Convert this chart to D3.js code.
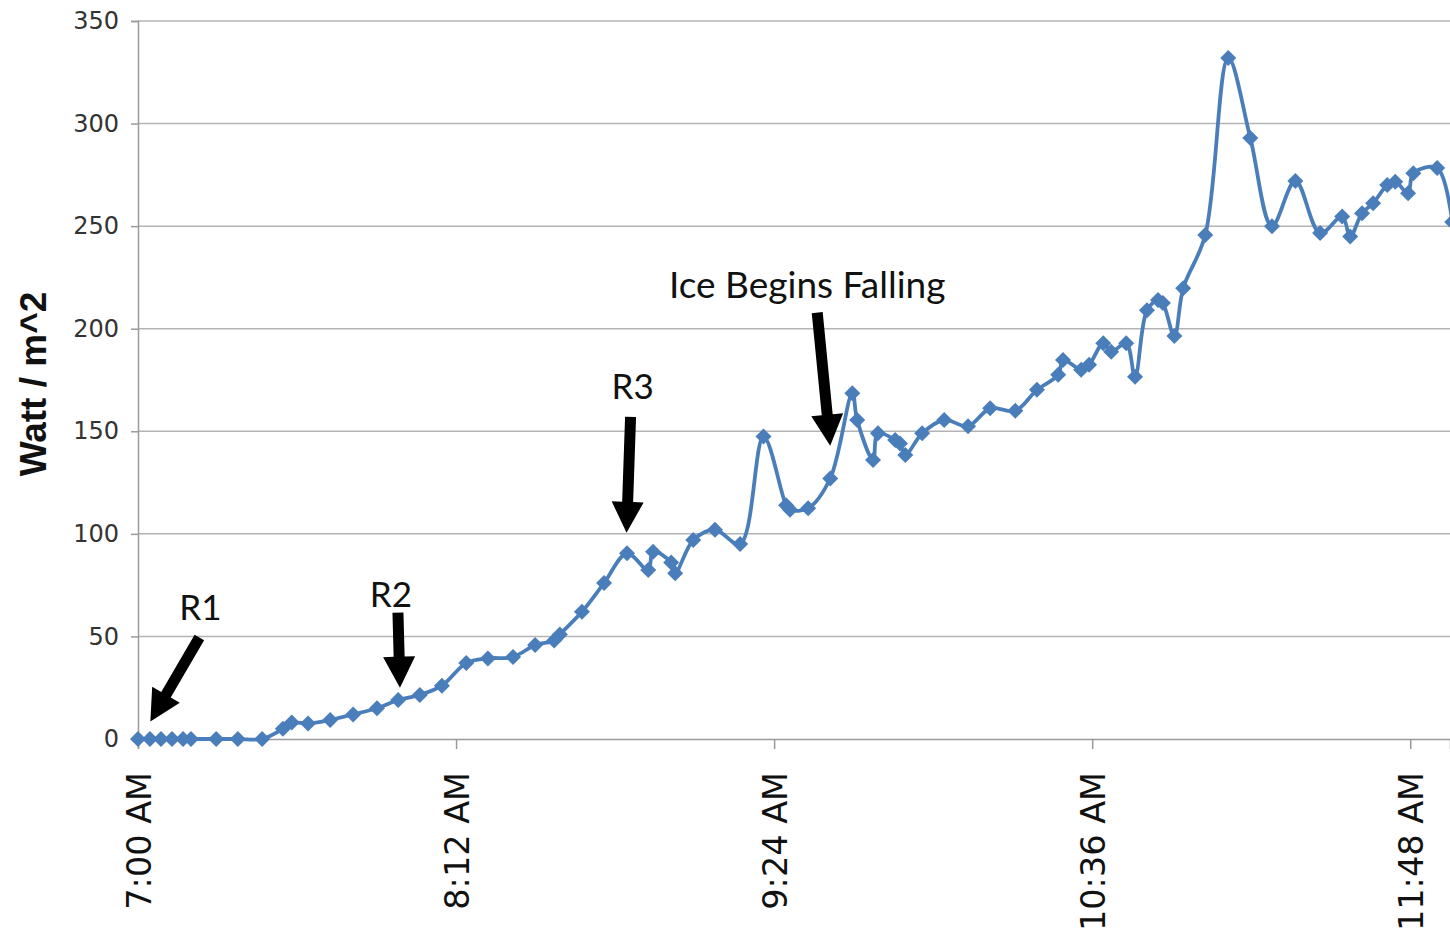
<!DOCTYPE html>
<html>
<head>
<meta charset="utf-8">
<script src="https://cdn.jsdelivr.net/npm/d3@7"></script>
<style>
  body { margin: 0; background: #fff; }
  svg { display: block; }
</style>
</head>
<body>
<script>
// irradiance readings, x = minutes after 7:00 AM, y = Watt / m^2
var minutes = [0, 2.7, 5.2, 7.7, 10.2, 12, 17.7, 22.6, 28.1,
  32.8, 34.8, 38.5, 43.5, 48.7, 54.1, 58.9, 63.8, 68.8,
  74.3, 79.2, 84.9, 89.9, 94.2, 95.5, 100.5, 105.5, 110.7,
  115.5, 116.6, 120.7, 121.6, 125.7, 130.6, 136.3, 141.6,
  146.7, 147.6, 151.7, 156.7, 161.7, 162.8, 166.4, 167.5,
  171.4, 172.5, 173.7, 177.5, 182.5, 187.9, 192.9, 198.6,
  203.5, 208.3, 209.4, 213.5, 215.3, 218.5, 220.3, 223.7,
  225.7, 228.4, 230.9, 232, 234.6, 236.6, 241.6, 246.8,
  251.8, 256.7, 262, 267.6, 272.6, 274.4, 277.1, 279.6,
  282.8, 284.6, 287.5, 288.7, 294.1, 297.5];
var watts = [0, 0, 0, 0, 0, 0, 0, 0, 0,
  5, 8, 7.5, 9.3, 12, 15, 19, 21.5, 26,
  37, 39.3, 40, 45.8, 48, 51, 62, 76, 90.5,
  82.4, 91.3, 86, 80.8, 97, 102, 95, 147.4,
  114, 111.7, 112.5, 127, 168.6, 155.5, 136, 149,
  145.8, 144, 138.5, 149, 155.5, 152.5, 161.2, 160,
  170.2, 177.5, 184.8, 180, 182.4, 192.9, 188.8, 192.9,
  176.6, 209, 214, 212.5, 196.5, 219.7, 245.7, 332,
  293, 250, 272, 246.6, 254.7, 245, 256.3, 261.2,
  270, 271.7, 266, 275.8, 278.3, 252];

var xTickLabels = ['7:00 AM', '8:12 AM', '9:24 AM', '10:36 AM', '11:48 AM'];
var yTicks = [0, 50, 100, 150, 200, 250, 300, 350];

// arrows: label and the point (minutes, W/m^2) the arrow head touches
var noteLabels = ['R1', 'R2', 'R3', 'Ice Begins Falling'];
var noteMinutes = [2.8, 59.3, 110.6, 156.7];
var noteValues = [8.5, 25, 100.5, 143];

var W = 1450, H = 935;
var parseTime = d3.timeParse('%I:%M %p');
var t0 = parseTime('7:00 AM');
var toDate = function(m){ return new Date(t0.getTime() + m * 60000); };

var x = d3.scaleTime().domain([t0, toDate(297)]).range([138, 1450]);
var y = d3.scaleLinear().domain([0, 350]).range([739, 21]);

var svg = d3.select('body').append('svg').attr('width', W).attr('height', H);

// gridlines
svg.append('g').selectAll('line').data(yTicks.slice(1)).join('line')
  .attr('x1', 138).attr('x2', W)
  .attr('y1', d => y(d)).attr('y2', d => y(d))
  .attr('stroke', '#b4b4b4').attr('stroke-width', 1.5);

// y axis
var yAxis = svg.append('g').attr('transform', 'translate(138,0)')
  .call(d3.axisLeft(y).tickValues(yTicks).tickSize(7).tickPadding(12));
yAxis.select('.domain').attr('stroke', '#9a9a9a').attr('stroke-width', 1.5);
yAxis.selectAll('.tick line').attr('stroke', '#9a9a9a').attr('stroke-width', 1.5);
yAxis.selectAll('.tick text')
  .attr('font-family', 'DejaVu Sans').attr('font-size', 24).attr('fill', '#333');

// x axis
var xAxis = svg.append('g').attr('transform', 'translate(0,739)')
  .call(d3.axisBottom(x)
    .tickValues(xTickLabels.map(parseTime))
    .tickSize(10)
    .tickFormat((d, i) => xTickLabels[i]));
xAxis.select('.domain').attr('stroke', '#9a9a9a').attr('stroke-width', 1.5);
xAxis.selectAll('.tick line').attr('stroke', '#9a9a9a').attr('stroke-width', 1.5);
xAxis.selectAll('.tick text')
  .attr('font-family', 'DejaVu Sans').attr('font-size', 33.5).attr('fill', '#111')
  .attr('text-anchor', 'end')
  .attr('transform', 'rotate(-90)')
  .attr('x', -33).attr('y', 0).attr('dy', '0.36em');

// axis title
svg.append('text')
  .attr('transform', 'translate(46,384) rotate(-90)')
  .attr('text-anchor', 'middle')
  .attr('font-family', 'Liberation Sans').attr('font-weight', 'bold')
  .attr('font-size', 37).attr('fill', '#111')
  .text('Watt / m^2');

// series
var pts = minutes.map((m, i) => ({t: toDate(m), v: watts[i]}));
var plot = svg.append('g');
plot.append('path').datum(pts)
  .attr('d', d3.line().x(d => x(d.t)).y(d => y(d.v)).curve(d3.curveCatmullRom.alpha(0.5)))
  .attr('fill', 'none').attr('stroke', '#4a7ebb').attr('stroke-width', 3.8)
  .attr('stroke-linejoin', 'round');
plot.selectAll('path.mk').data(pts).join('path').attr('class', 'mk')
  .attr('d', d3.symbol(d3.symbolSquare, 128))
  .attr('transform', d => 'translate(' + x(d.t) + ',' + y(d.v) + ') rotate(45)')
  .attr('fill', '#4a7ebb');

// annotation arrows, tail offset and text offset from the tip (px)
var tails = [[49, -84], [-2, -75], [4, -116], [-13, -133]];
var textOff = [[50, -102], [-9, -81], [6, -134], [-23, -148]];

function arrowPath(tx, ty, bx, by){
  var dx = tx - bx, dy = ty - by, len = Math.hypot(dx, dy);
  var ux = dx / len, uy = dy / len, px = -uy, py = ux;
  var hl = 31, hw = 16, sw = 5.5;
  var hx = tx - ux * hl, hy = ty - uy * hl;
  var p = [
    [bx + px * sw, by + py * sw], [hx + px * sw, hy + py * sw],
    [hx + px * hw, hy + py * hw], [tx, ty],
    [hx - px * hw, hy - py * hw], [hx - px * sw, hy - py * sw],
    [bx - px * sw, by - py * sw]];
  return 'M' + p.map(q => q.join(',')).join('L') + 'Z';
}

var notes = svg.append('g');
noteLabels.forEach(function(lab, i){
  var tx = x(toDate(noteMinutes[i])), ty = y(noteValues[i]);
  notes.append('path')
    .attr('d', arrowPath(tx, ty, tx + tails[i][0], ty + tails[i][1]))
    .attr('fill', '#000');
  notes.append('text')
    .attr('x', tx + textOff[i][0]).attr('y', ty + textOff[i][1])
    .attr('text-anchor', 'middle')
    .attr('font-family', 'Lato').attr('font-size', i === 3 ? 37 : 35).attr('fill', '#111')
    .text(lab);
});
</script>
</body>
</html>
